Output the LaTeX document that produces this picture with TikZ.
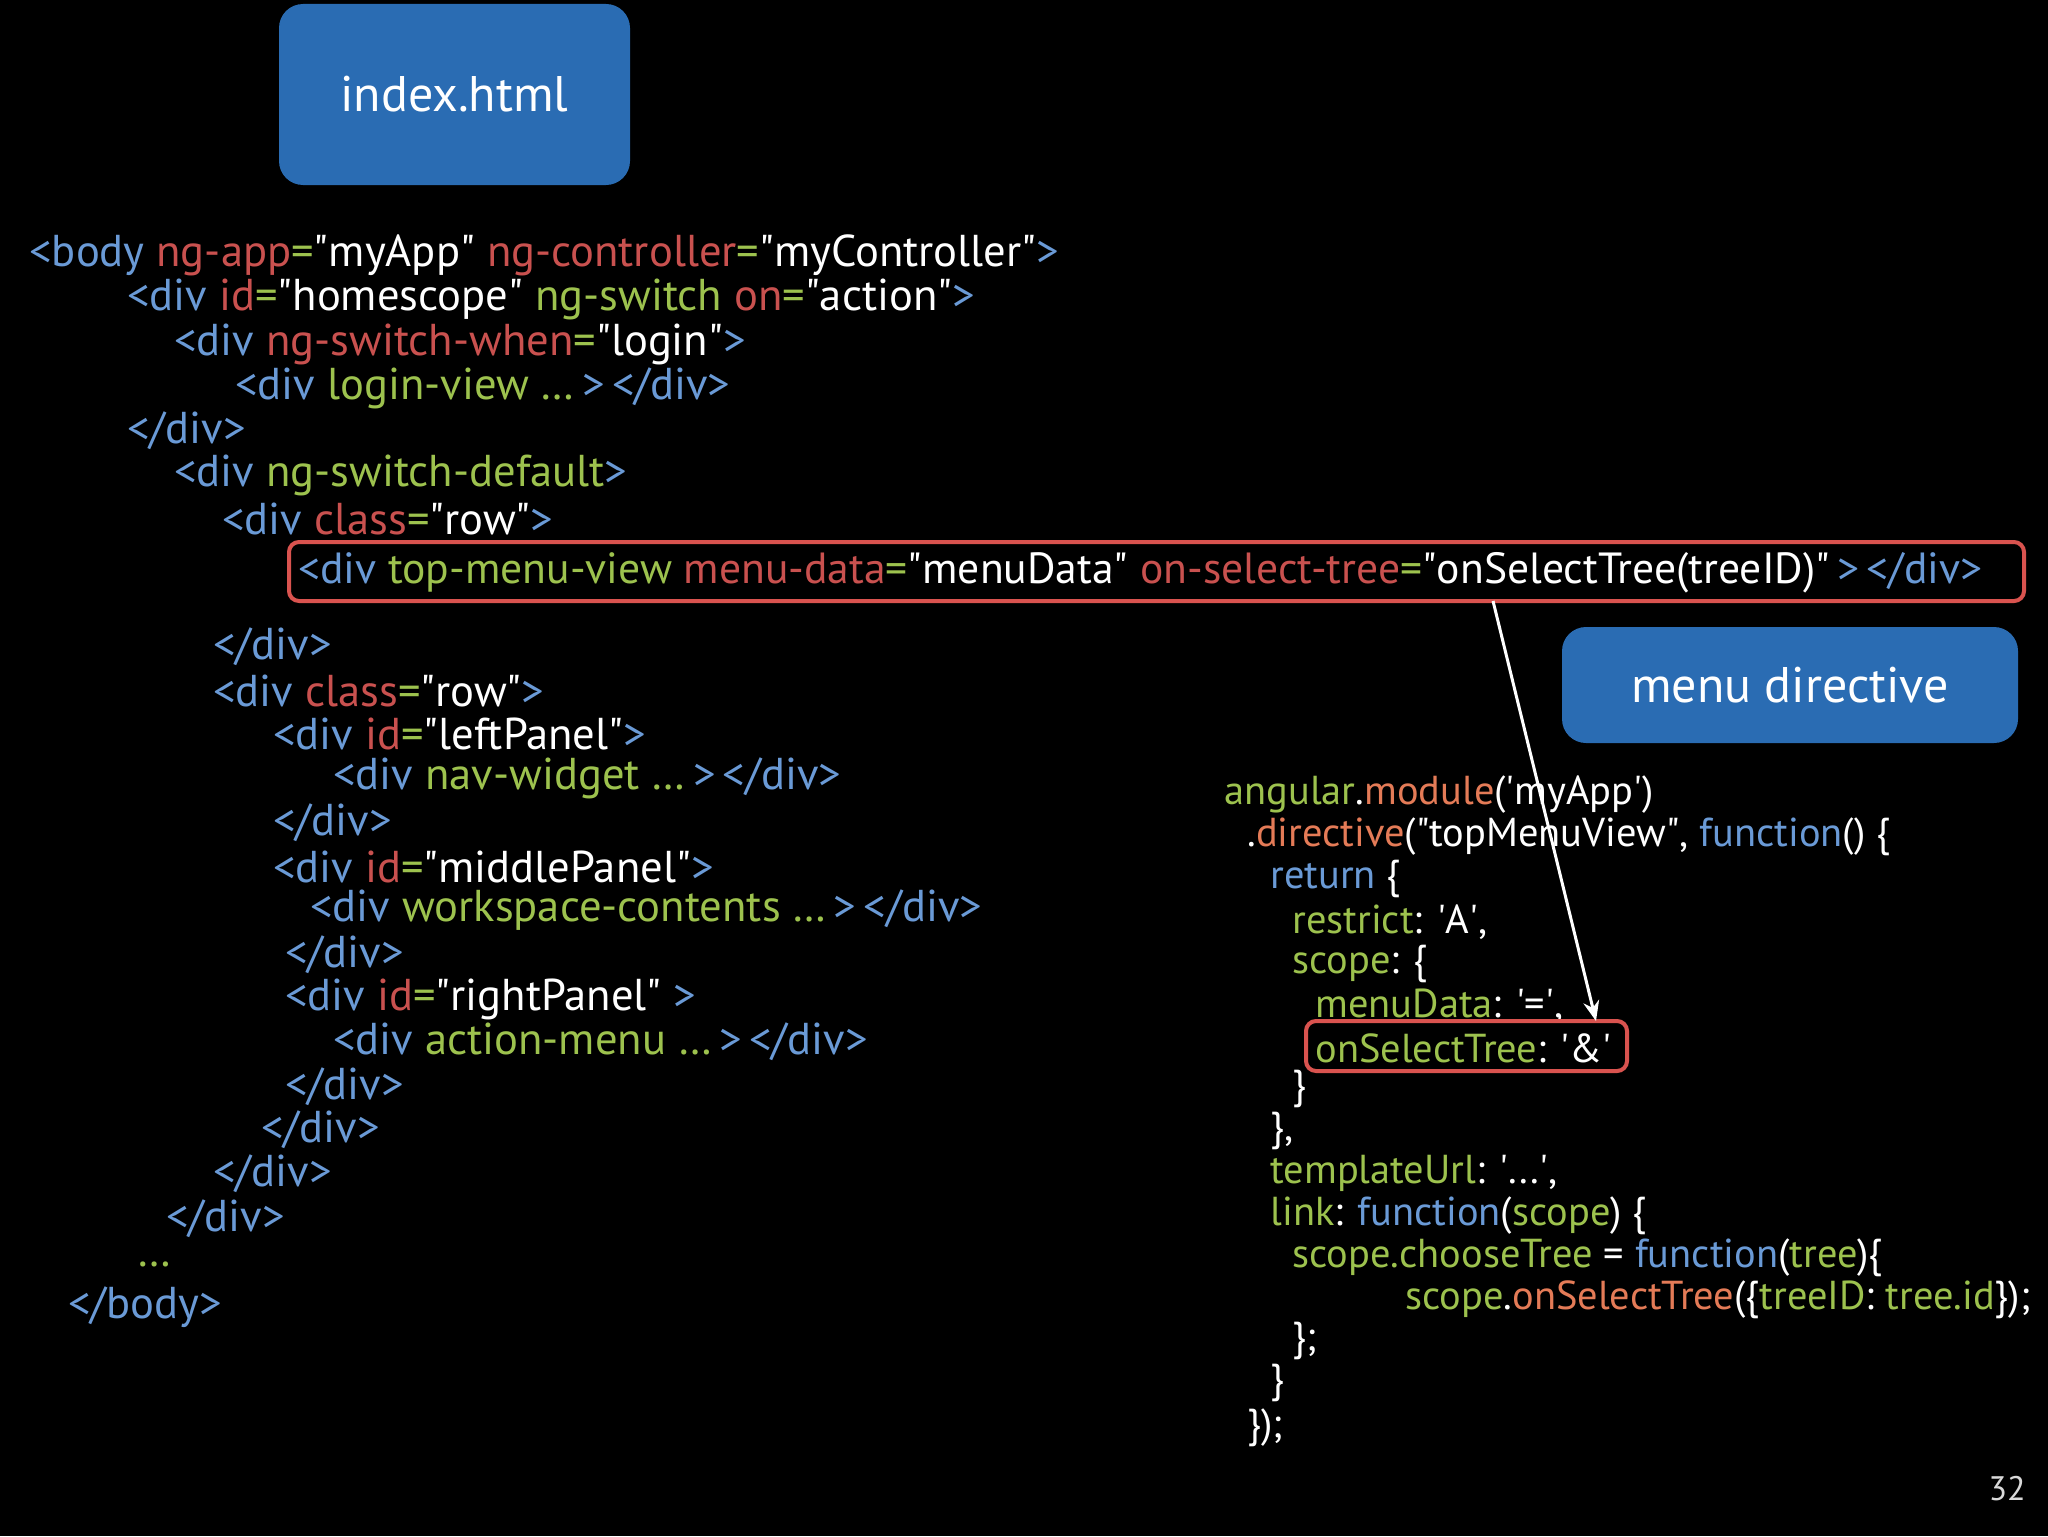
\documentclass[tikz,border=0pt]{standalone}
\usepackage{fontspec}
\setmainfont{PT Sans}
\usetikzlibrary{arrows.meta}
\definecolor{cB}{HTML}{6A9AD6}
\definecolor{cR}{HTML}{C9514F}
\definecolor{cG}{HTML}{9DC24E}
\definecolor{cO}{HTML}{E47B57}
\definecolor{boxB}{HTML}{2A6CB3}
\definecolor{redbox}{HTML}{D9534F}
\newcommand\tB[1]{\textcolor{cB}{#1}}
\newcommand\tR[1]{\textcolor{cR}{#1}}
\newcommand\tG[1]{\textcolor{cG}{#1}}
\newcommand\tO[1]{\textcolor{cO}{#1}}
\newcommand\qq{\textquotedbl}
\newcommand\sq{\textquotesingle}
\begin{document}
\begin{tikzpicture}[x=0.5pt,y=-0.5pt,
  code/.style={anchor=west,inner sep=0pt,text=white,yshift=-2pt,font=\fontsize{22.3}{27}\selectfont},
  jcode/.style={anchor=west,inner sep=0pt,text=white,yshift=-2pt,font=\fontsize{20.2}{24}\selectfont},
  bluebox/.style={fill=boxB,rounded corners=12pt,text=white,font=\fontsize{25}{30}\selectfont},
  hl/.style={draw=redbox,line width=2pt,rounded corners=5pt}]
\fill[black] (0,0) rectangle (2048,1536);
\useasboundingbox (0,0) rectangle (2048,1536);
\node[bluebox,minimum width=175.5pt,minimum height=90.5pt] (idx) at (454.5,94.5) {index.html};
\node[bluebox,minimum width=228pt,minimum height=58pt] (md) at (1790,685) {menu directive};
% HTML
\node[code] (h1) at (29,251) {\tB{<body} \tR{ng-app}\tG{=}\qq myApp\qq\ \tR{ng-controller}\tG{=}\qq myController\qq\tB{>}};
\node[code] (h2) at (127,295) {\tB{<div} \tR{id}\tG{=}\qq homescope\qq\ \tG{ng-switch} \tR{on}\tG{=}\qq action\qq\tB{>}};
\node[code] (h3) at (174,340) {\tB{<div} \tR{ng-switch-when}\tG{=}\qq login\qq\tB{>}};
\node[code] (h4) at (235,384) {\tB{<div} \tG{login-view …}\tB{\,>\,</div>}};
\node[code] (h5) at (127,427) {\tB{</div>}};
\node[code] (h6) at (174,471) {\tB{<div} \tG{ng-switch-default}\tB{>}};
\node[code] (h7) at (222,515) {\tB{<div} \tR{class}\tG{=}\qq row\qq\tB{>}};
\node[code,font=\fontsize{21.8}{26}\selectfont] (h8) at (298,569) {\tB{<div} \tG{top-menu-view} \tR{menu-data}\tG{=}\qq menuData\qq\ \tR{on-select-tree}\tG{=}\qq onSelectTree(treeID)\qq\tB{\,>\,</div>}};
\node[code] (h9) at (213,643) {\tB{</div>}};
\node[code] (h10) at (213,687) {\tB{<div} \tR{class}\tG{=}\qq row\qq\tB{>}};
\node[code] (h11) at (273,730) {\tB{<div} \tR{id}\tG{=}\qq leftPanel\qq\tB{>}};
\node[code] (h12) at (333,774) {\tB{<div} \tG{nav-widget …}\tB{\,>\,</div>}};
\node[code] (h13) at (273,819) {\tB{</div>}};
\node[code] (h14) at (273,863) {\tB{<div} \tR{id}\tG{=}\qq middlePanel\qq\tB{>}};
\node[code] (h15) at (310,906) {\tB{<div} \tG{workspace-contents …}\tB{\,>\,</div>}};
\node[code] (h16) at (285,951) {\tB{</div>}};
\node[code] (h17) at (285,995) {\tB{<div} \tR{id}\tG{=}\qq rightPanel\qq\ \tB{>}};
\node[code] (h18) at (333,1038) {\tB{<div} \tG{action-menu …}\tB{\,>\,</div>}};
\node[code] (h19) at (285,1083) {\tB{</div>}};
\node[code] (h20) at (261,1126) {\tB{</div>}};
\node[code] (h21) at (213,1170) {\tB{</div>}};
\node[code] (h22) at (166,1215) {\tB{</div>}};
\node[code] (h23) at (137,1260) {\tG{…}};
\node[code] (h24) at (68,1303) {\tB{</body>}};
% JS
\node[jcode] (j1) at (1224,791) {\tG{angular}.\tO{module}(\sq myApp\sq)};
\node[jcode] (j2) at (1247,833) {.\tO{directive}(\qq topMenuView\qq, \tB{function}() \{};
\node[jcode] (j3) at (1270,875) {\tB{return} \{};
\node[jcode] (j4) at (1292,918) {\tG{restrict}: \sq A\sq,};
\node[jcode] (j5) at (1292,960) {\tG{scope}: \{};
\node[jcode] (j6) at (1315,1002) {\tG{menuData}: \sq=\sq,};
\node[jcode] (j7) at (1315,1044) {\tG{onSelectTree}: \sq\&\sq};
\node[jcode] (j8) at (1292,1085) {\}};
\node[jcode] (j9) at (1270,1127) {\},};
\node[jcode] (j10) at (1270,1169) {\tG{templateUrl}: \sq...\sq,};
\node[jcode] (j11) at (1270,1212) {\tG{link}: \tB{function}(\tG{scope}) \{};
\node[jcode] (j12) at (1292,1254) {\tG{scope.chooseTree} = \tB{function}(\tG{tree})\{};
\node[jcode] (j13) at (1405,1296) {\tG{scope}.\tO{onSelectTree}(\{\tG{treeID}: \tG{tree.id}\});};
\node[jcode] (j14) at (1292,1337) {\};};
\node[jcode] (j15) at (1270,1379) {\}};
\node[jcode] (j16) at (1247,1424) {\});};
\node[anchor=center,inner sep=0pt,text=white!85!black,font=\fontsize{17}{20}\selectfont] (pg) at (2007,1489) {32};
% highlights
\draw[hl] (289,542) rectangle (2024,601);
\draw[hl] (1306,1021) rectangle (1627,1071);
\coordinate (a1) at (1493,601);
\coordinate (a2) at (1596,1021);
\draw[white,line width=1.5pt,-{Stealth[length=10pt,width=8pt]}] (a1) -- (a2);
\end{tikzpicture}
\end{document}
